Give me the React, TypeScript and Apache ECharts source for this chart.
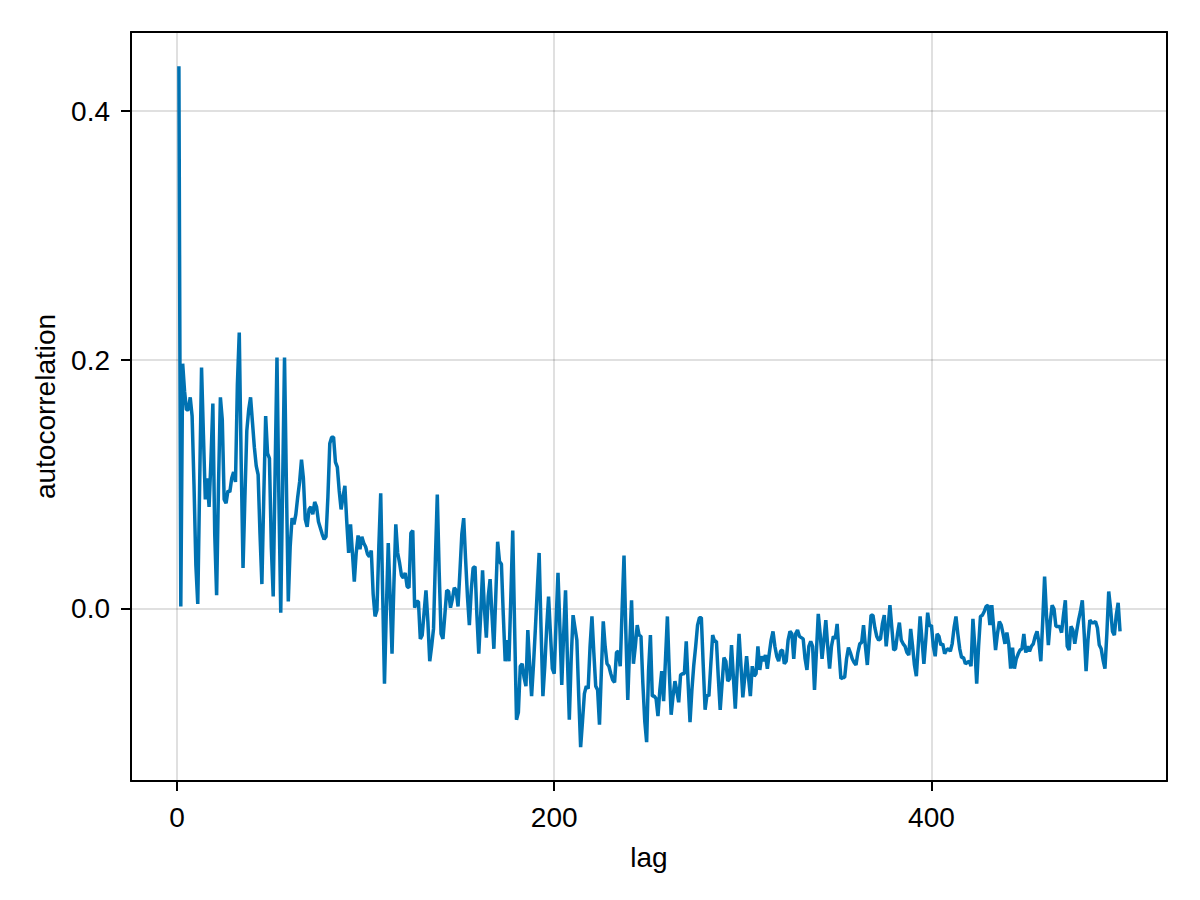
import { useEffect, useRef } from "react";
import * as echarts from "echarts";

// autocorrelation per lag, lag = 1..500
const acfLag1to100 = [
  0.436, 0.002, 0.197, 0.175, 0.160, 0.160, 0.170, 0.155, 0.100, 0.035,
  0.004, 0.100, 0.194, 0.140, 0.088, 0.105, 0.082, 0.120, 0.165, 0.060,
  0.011, 0.100, 0.170, 0.152, 0.088, 0.085, 0.095, 0.094, 0.105, 0.110,
  0.102, 0.180, 0.222, 0.120, 0.033, 0.090, 0.143, 0.160, 0.170, 0.150,
  0.130, 0.115, 0.108, 0.060, 0.020, 0.090, 0.155, 0.125, 0.121, 0.050,
  0.010, 0.110, 0.202, 0.090, -0.003, 0.100, 0.202, 0.100, 0.006, 0.050,
  0.073, 0.068, 0.076, 0.090, 0.102, 0.120, 0.105, 0.072, 0.066, 0.080,
  0.082, 0.076, 0.086, 0.082, 0.070, 0.065, 0.060, 0.056, 0.058, 0.090,
  0.133, 0.138, 0.138, 0.118, 0.114, 0.095, 0.080, 0.090, 0.099, 0.070,
  0.045, 0.068, 0.045, 0.022, 0.045, 0.059, 0.048, 0.058, 0.053, 0.050,
];

const acfLag101to200 = [
  0.044, 0.042, 0.047, 0.012, -0.006, -0.001, 0.050, 0.093, 0.015, -0.060,
  0.000, 0.053, 0.010, -0.036, 0.020, 0.068, 0.045, 0.037, 0.027, 0.025,
  0.029, 0.018, 0.017, 0.061, 0.063, 0.001, 0.006, 0.006, -0.024, -0.021,
  -0.003, 0.015, -0.010, -0.042, -0.030, -0.016, 0.040, 0.092, 0.030, -0.020,
  -0.024, -0.005, 0.015, 0.014, 0.001, 0.008, 0.017, 0.015, 0.002, 0.030,
  0.060, 0.073, 0.040, 0.010, -0.013, 0.015, 0.033, 0.034, -0.005, -0.036,
  -0.005, 0.031, 0.000, -0.023, 0.010, 0.024, -0.005, -0.032, 0.010, 0.054,
  0.038, 0.036, -0.005, -0.042, -0.025, -0.042, 0.010, 0.063, -0.015, -0.089,
  -0.083, -0.046, -0.044, -0.055, -0.062, -0.017, -0.045, -0.070, -0.045, -0.016,
  0.015, 0.045, -0.015, -0.070, -0.046, -0.015, 0.010, -0.020, -0.048, -0.052,
];

const acfLag201to300 = [
  -0.010, 0.029, -0.015, -0.061, -0.020, 0.015, -0.040, -0.089, -0.040, -0.005,
  -0.015, -0.025, -0.070, -0.111, -0.090, -0.068, -0.062, -0.064, -0.030, -0.006,
  -0.035, -0.062, -0.065, -0.093, -0.050, -0.010, -0.030, -0.044, -0.046, -0.052,
  -0.057, -0.059, -0.035, -0.034, -0.046, 0.000, 0.043, -0.020, -0.073, -0.030,
  0.007, -0.044, -0.030, -0.013, -0.021, -0.022, -0.060, -0.090, -0.107, -0.050,
  -0.021, -0.070, -0.070, -0.072, -0.086, -0.065, -0.050, -0.074, -0.040, -0.006,
  -0.050, -0.085, -0.070, -0.058, -0.066, -0.075, -0.053, -0.052, -0.052, -0.026,
  -0.060, -0.091, -0.065, -0.045, -0.030, -0.013, -0.007, -0.007, -0.045, -0.081,
  -0.069, -0.070, -0.045, -0.021, -0.026, -0.026, -0.055, -0.081, -0.060, -0.039,
  -0.042, -0.058, -0.056, -0.029, -0.055, -0.080, -0.050, -0.020, -0.045, -0.071,
];

const acfLag301to400 = [
  -0.055, -0.038, -0.055, -0.070, -0.046, -0.054, -0.052, -0.030, -0.049, -0.038,
  -0.042, -0.037, -0.048, -0.036, -0.025, -0.018, -0.030, -0.038, -0.042, -0.034,
  -0.033, -0.044, -0.042, -0.025, -0.018, -0.020, -0.040, -0.020, -0.017, -0.022,
  -0.023, -0.024, -0.040, -0.049, -0.030, -0.026, -0.030, -0.065, -0.035, -0.004,
  -0.020, -0.040, -0.025, -0.009, -0.030, -0.048, -0.030, -0.022, -0.024, -0.012,
  -0.035, -0.056, -0.055, -0.055, -0.040, -0.031, -0.035, -0.040, -0.043, -0.045,
  -0.035, -0.028, -0.027, -0.013, -0.030, -0.045, -0.025, -0.005, -0.005, -0.015,
  -0.022, -0.025, -0.024, -0.012, -0.005, -0.030, -0.015, 0.003, -0.015, -0.033,
  -0.032, -0.020, -0.011, -0.025, -0.028, -0.030, -0.035, -0.037, -0.016, -0.030,
  -0.045, -0.054, -0.030, -0.006, -0.025, -0.044, -0.025, -0.003, -0.014, -0.013,
];

const acfLag401to500 = [
  -0.030, -0.038, -0.020, -0.022, -0.029, -0.028, -0.036, -0.033, -0.032, -0.034,
  -0.028, -0.015, -0.006, -0.020, -0.032, -0.039, -0.039, -0.044, -0.043, -0.042,
  -0.046, -0.008, -0.030, -0.060, -0.030, -0.006, -0.005, -0.002, 0.002, 0.003,
  -0.013, 0.003, -0.015, -0.033, -0.020, -0.010, -0.013, -0.020, -0.028, -0.019,
  -0.028, -0.048, -0.031, -0.048, -0.040, -0.036, -0.033, -0.032, -0.020, -0.035,
  -0.030, -0.034, -0.030, -0.028, -0.022, -0.018, -0.027, -0.042, -0.010, 0.026,
  -0.005, -0.029, -0.010, 0.003, 0.000, -0.014, -0.014, -0.014, -0.019, -0.005,
  0.007, -0.030, -0.033, -0.014, -0.017, -0.028, -0.018, -0.009, -0.002, 0.007,
  -0.020, -0.050, -0.025, -0.009, -0.011, -0.011, -0.010, -0.015, -0.029, -0.032,
  -0.041, -0.048, -0.020, 0.014, 0.000, -0.018, -0.021, -0.005, 0.005, -0.018,
];

const xTicks = [0, 200, 400];
const yTicks = [0, 0.2, 0.4];

const X_MIN = -24.4;
const X_MAX = 524.9;
const Y_MIN = -0.1382;
const Y_MAX = 0.4635;

const FONT = "'Liberation Sans', Arial, Helvetica, sans-serif";

const spine = { show: true, onZero: false, lineStyle: { color: "#000", width: 2 } };
const gridLine = { show: true, lineStyle: { color: "rgba(0,0,0,0.12)", width: 2 } };
const tick = { show: true, length: 10, lineStyle: { color: "#000", width: 2 } };

export default function App() {
  const chartRef = useRef<HTMLDivElement>(null);

  useEffect(() => {
    if (!chartRef.current) return;
    document.body.style.margin = "0";

    const values = [
      ...acfLag1to100,
      ...acfLag101to200,
      ...acfLag201to300,
      ...acfLag301to400,
      ...acfLag401to500,
    ];
    const lineData = values.map((v, i) => [i + 1, v]);

    const chart = echarts.init(chartRef.current, null, { renderer: "svg" });
    const option: echarts.EChartsOption = {
      animation: false,
      textStyle: { fontFamily: FONT },
      grid: { left: 131, top: 32, width: 1036, height: 749 },
      xAxis: [
        {
          type: "value",
          position: "bottom",
          min: X_MIN,
          max: X_MAX,
          name: "lag",
          nameLocation: "middle",
          nameGap: 62,
          nameTextStyle: { fontSize: 28, color: "#000", fontFamily: FONT },
          axisLine: spine,
          axisTick: { ...tick, customValues: xTicks },
          axisLabel: {
            customValues: xTicks,
            fontSize: 28,
            color: "#000",
            margin: 22,
            fontFamily: FONT,
            hideOverlap: false,
          },
          splitLine: gridLine,
        },
        {
          // top spine only
          type: "value",
          position: "top",
          min: X_MIN,
          max: X_MAX,
          axisLine: spine,
          axisTick: { show: false },
          axisLabel: { show: false },
          splitLine: { show: false },
        },
      ],
      yAxis: [
        {
          type: "value",
          position: "left",
          min: Y_MIN,
          max: Y_MAX,
          name: "autocorrelation",
          nameLocation: "middle",
          nameGap: 72,
          nameTextStyle: { fontSize: 28, color: "#000", fontFamily: FONT },
          axisLine: spine,
          axisTick: { ...tick, customValues: yTicks },
          axisLabel: {
            customValues: yTicks,
            fontSize: 28,
            color: "#000",
            margin: 21,
            fontFamily: FONT,
            hideOverlap: false,
            formatter: (v: number) => v.toFixed(1),
          },
          splitLine: gridLine,
        },
        {
          // right spine only
          type: "value",
          position: "right",
          min: Y_MIN,
          max: Y_MAX,
          axisLine: spine,
          axisTick: { show: false },
          axisLabel: { show: false },
          splitLine: { show: false },
        },
      ],
      series: [
        {
          type: "line",
          xAxisIndex: 0,
          yAxisIndex: 0,
          data: lineData,
          showSymbol: false,
          smooth: false,
          lineStyle: { color: "#0072B2", width: 3.5 },
          itemStyle: { color: "#0072B2" },
          clip: true,
        },
      ],
    };
    chart.setOption(option);

    return () => {
      chart.dispose();
    };
  }, []);

  return <div ref={chartRef} style={{ width: 1200, height: 900, background: "#fff" }} />;
}
